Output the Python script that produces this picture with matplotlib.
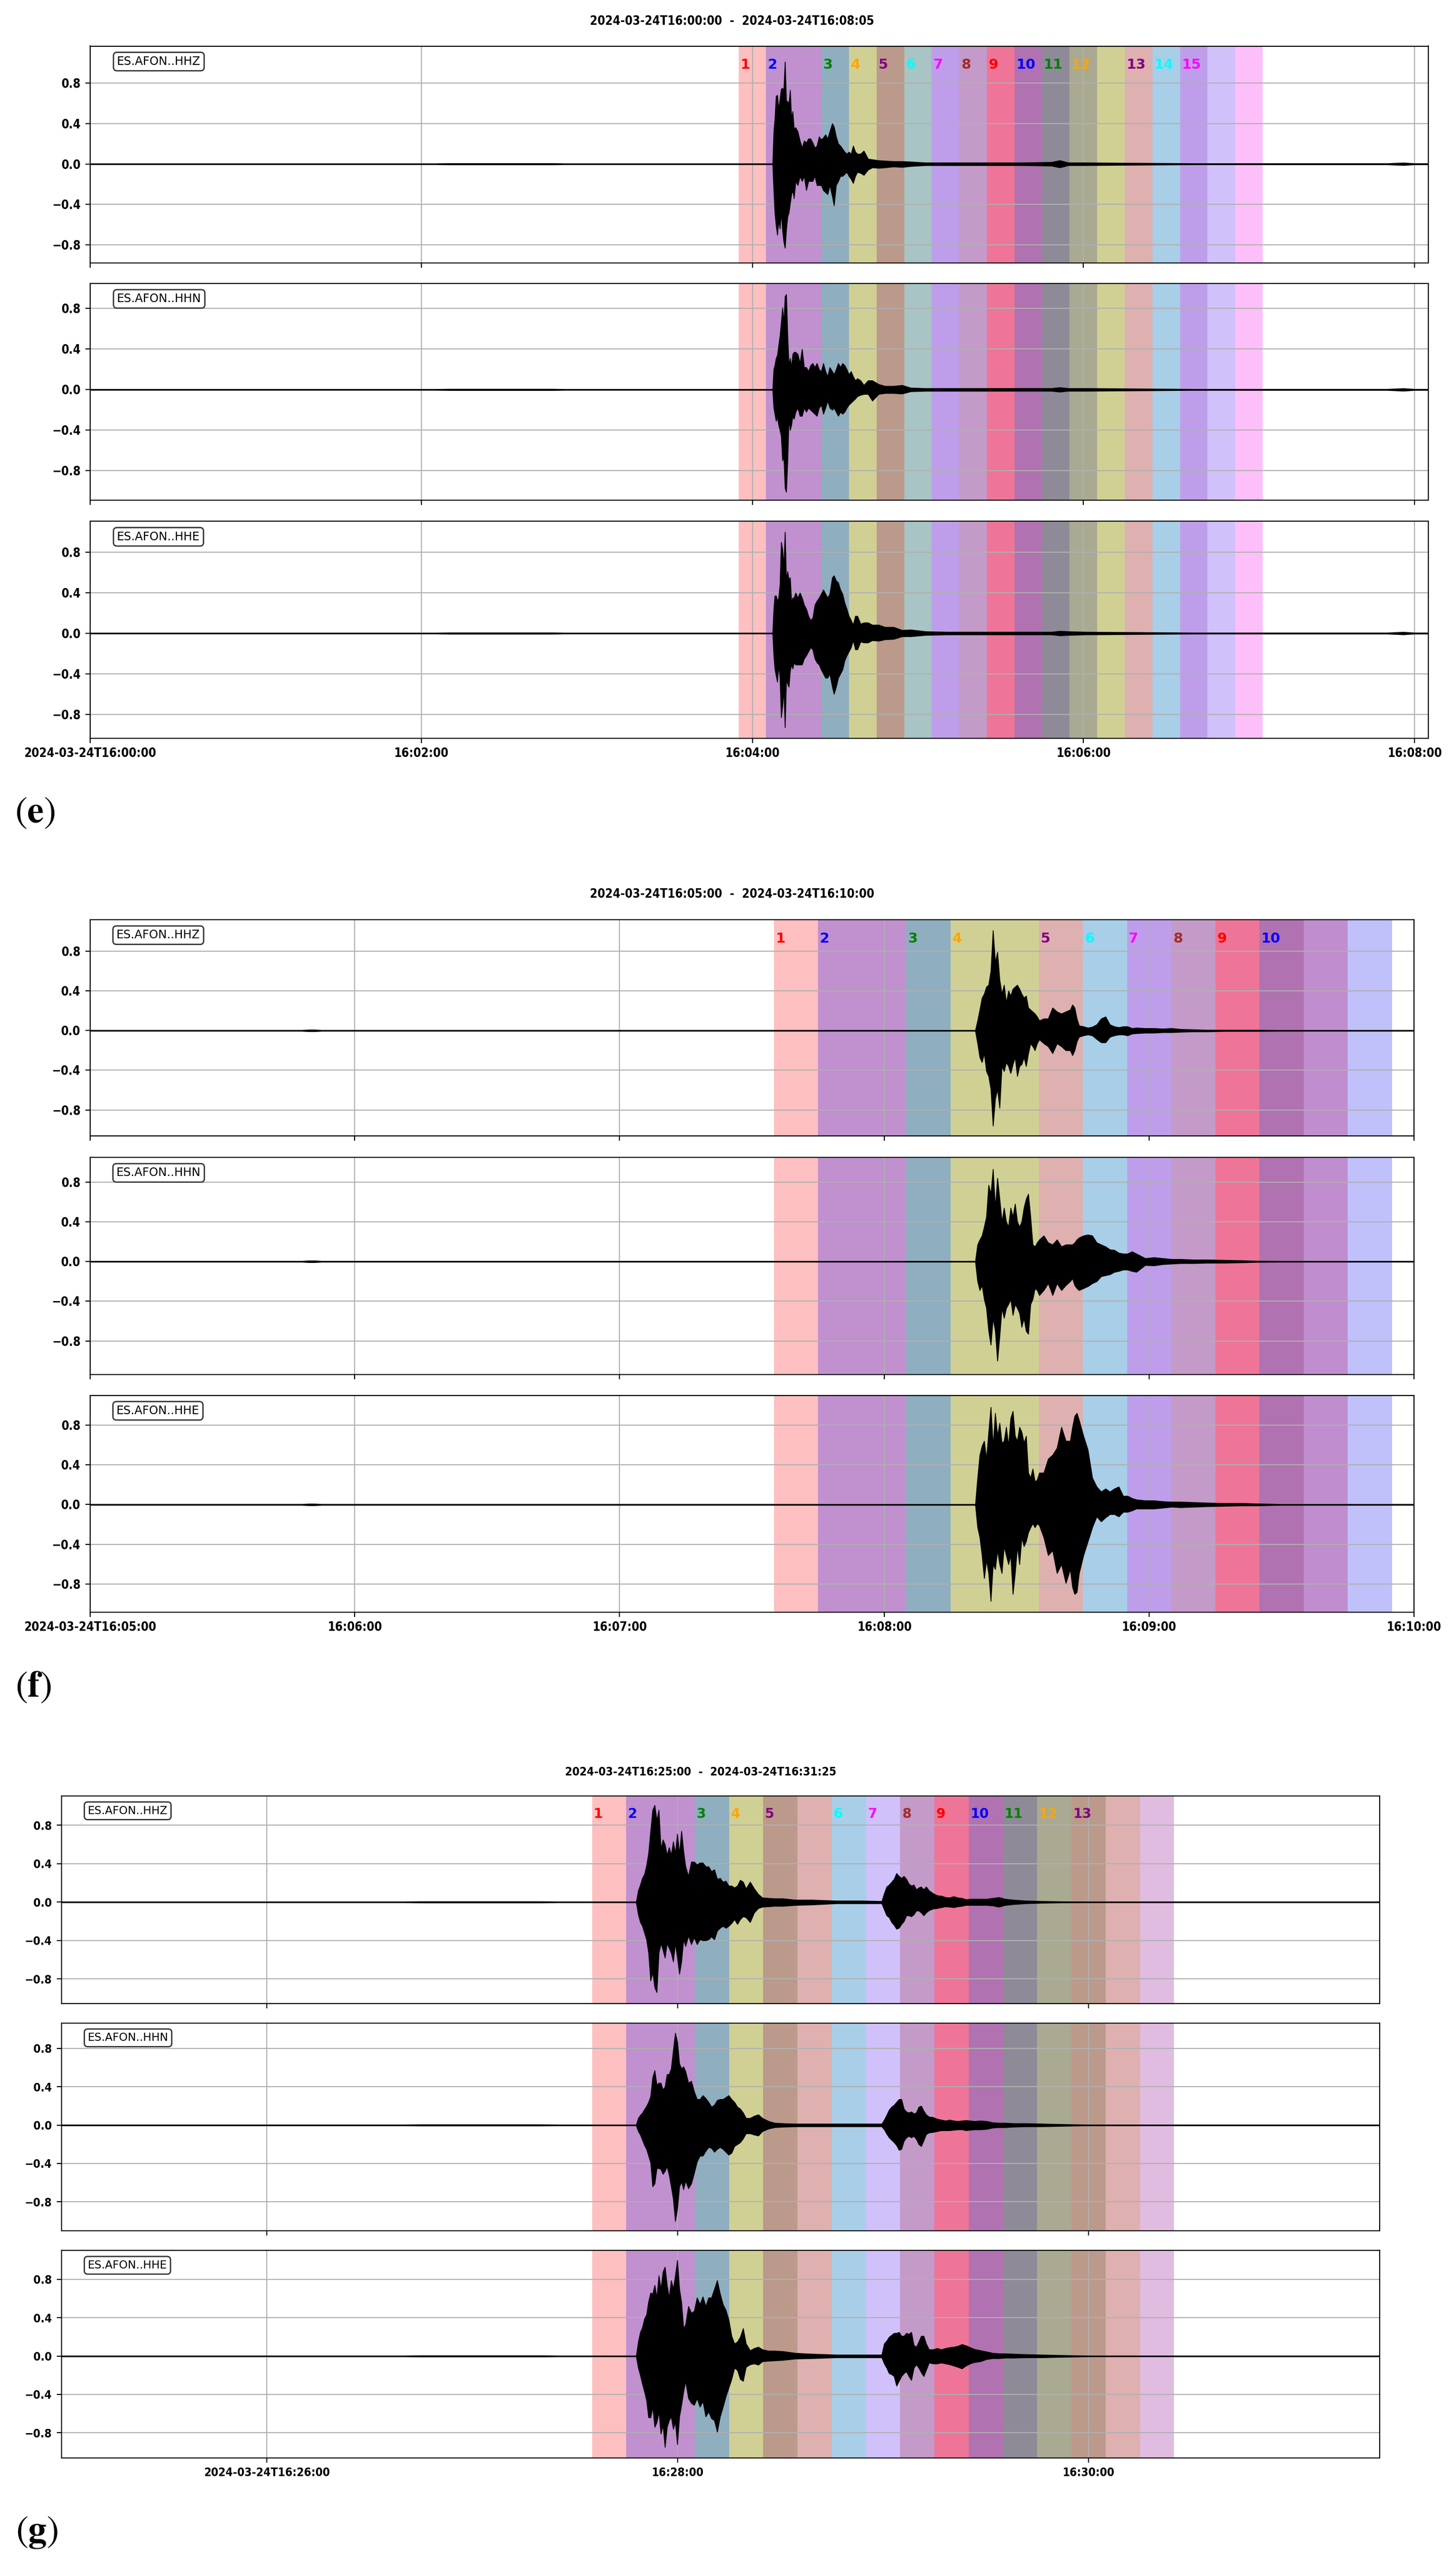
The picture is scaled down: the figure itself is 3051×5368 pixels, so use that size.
import numpy as np
import matplotlib
matplotlib.use('Agg')
import matplotlib.pyplot as plt
from matplotlib import font_manager as fm

plt.rcParams['mathtext.fontset'] = 'stix'
plt.rcParams['font.family'] = ['DejaVu Sans']

W, H, DPI = 3051, 5368, 200

# ---------------- data ----------------
label_colors = ['red', 'blue', 'green', 'orange', 'purple', 'cyan', 'magenta', 'brown']
channels = ['ES.AFON..HHZ', 'ES.AFON..HHN', 'ES.AFON..HHE']
y_ticks = [-0.8, -0.4, 0.0, 0.4, 0.8]
y_ticklabels = ['\u22120.8', '\u22120.4', '0.0', '0.4', '0.8']

# panel (e): seconds after 2024-03-24T16:00:00
e_title = '2024-03-24T16:00:00  -  2024-03-24T16:08:05'
e_xlim = [0, 485]
e_xticks = [0, 120, 240, 360, 480]
e_xticklabels = ['2024-03-24T16:00:00', '16:02:00', '16:04:00', '16:06:00', '16:08:00']
e_span_edges = [235, 245, 265, 275, 285, 295, 305, 315, 325, 335, 345, 355, 365, 375, 385, 395, 405, 415, 425]
e_span_colors = ['#FDBFBF', '#C090CF', '#8FAEBF', '#D0D094', '#BB9A8B', '#A8C4C4', '#BE9EEB', '#C49AC8',
                 '#EE7598', '#B072B0', '#8F8A98', '#AAAA92', '#D0D094', '#DEB0B0', '#A8CEE8', '#BE9EEB',
                 '#D0C1FA', '#FDBFFA']
e_label_x = [235, 245, 265, 275, 285, 295, 305, 315, 325, 335, 345, 355, 375, 385, 395]
e_ylims = [(-0.976, 1.165), (-1.091, 1.048), (-1.035, 1.105)]
e_t = [247.33, 247.72, 248.11, 248.57, 249.03, 249.50, 249.96, 250.42, 250.89, 251.35, 251.81, 252.27,
       252.74, 253.20, 253.67, 254.13, 254.59, 255.06, 255.67, 256.45, 257.22, 257.99, 258.76, 259.53,
       260.31, 261.08, 261.85, 262.62, 263.39, 264.17, 264.94, 265.71, 266.48, 267.26, 268.03, 268.95,
       269.57, 270.34, 271.12, 271.89, 272.66, 273.43, 274.21, 274.98, 275.75, 276.52, 277.30, 278.07,
       279.22, 280.38, 281.93, 283.47, 285.79, 288.11, 291.19, 294.28, 297.37, 302.78, 310.50, 322.08,
       337.53, 348.34, 351.43, 354.52, 360.70]
e_hhz_up = [0.004, .32, .44, .67, .68, .54, .64, .74, .75, .73, 1.01, .62, .62, .59, .73, .45, .52, .35, .36,
            .32, .23, .16, .23, .21, .25, .25, .21, .16, .18, .27, .24, .26, .29, .25, .32, .40, .37, .27, .20,
            .18, .15, .12, .10, .12, .10, .18, .12, .10, .10, .13, .05, .044, .035, .031, .026, .026, .022,
            .013, .013, .013, .013, .018, .035, .013, .013]
e_hhz_lo = [-0.004, -.26, -.48, -.61, -.70, -.56, -.64, -.48, -.66, -.77, -.83, -.65, -.52, -.48, -.39, -.30,
            -.26, -.34, -.17, -.21, -.12, -.17, -.12, -.26, -.17, -.17, -.17, -.12, -.21, -.21, -.21, -.26,
            -.28, -.30, -.21, -.32, -.41, -.21, -.17, -.12, -.12, -.10, -.08, -.12, -.15, -.19, -.12, -.08,
            -.09, -.11, -.057, -.035, -.04, -.035, -.026, -.031, -.022, -.013, -.013, -.013, -.013, -.018,
            -.035, -.013, -.013]
e_hhn_up = [0.004, .20, .24, .31, .34, .44, .53, .66, .81, .66, .92, .94, .53, .24, .31, .22, .35, .37, .37,
            .35, .26, .40, .22, .22, .18, .24, .26, .22, .26, .20, .18, .26, .18, .13, .22, .18, .15, .20, .26,
            .22, .26, .24, .20, .15, .18, .13, .09, .11, .09, .044, .09, .09, .053, .035, .035, .044, .018,
            .013, .013, .013, .013, .013, .022, .013, .013]
e_hhn_lo = [-0.004, -.18, -.24, -.31, -.27, -.35, -.40, -.46, -.70, -.66, -.97, -1.01, -.70, -.29, -.40, -.35,
            -.26, -.29, -.22, -.18, -.26, -.26, -.18, -.22, -.18, -.20, -.22, -.24, -.26, -.18, -.15, -.24,
            -.18, -.11, -.18, -.20, -.18, -.22, -.26, -.22, -.24, -.22, -.18, -.15, -.13, -.11, -.09, -.066,
            -.053, -.044, -.044, -.11, -.044, -.035, -.035, -.04, -.018, -.013, -.013, -.013, -.013, -.013,
            -.022, -.013, -.013]
e_hhe_up = [0.004, .24, .37, .37, .32, .35, .48, .90, .83, .66, 1.0, .53, .61, .53, .55, .31, .35, .35, .40,
            .35, .40, .35, .28, .24, .17, .13, .15, .28, .32, .35, .39, .43, .39, .35, .39, .55, .57, .52, .50,
            .43, .39, .30, .24, .17, .13, .083, .17, .17, .092, .105, .105, .083, .083, .061, .061, .031,
            .035, .018, .013, .013, .013, .013, .022, .018, .013]
e_hhe_lo = [-0.004, -.22, -.35, -.42, -.48, -.31, -.44, -.83, -.72, -.55, -.93, -.46, -.50, -.53, -.37, -.31,
            -.35, -.29, -.31, -.31, -.31, -.31, -.25, -.22, -.18, -.14, -.16, -.25, -.29, -.31, -.36, -.40,
            -.44, -.44, -.40, -.53, -.60, -.53, -.44, -.40, -.36, -.27, -.22, -.18, -.14, -.07, -.16, -.16,
            -.083, -.092, -.092, -.07, -.075, -.061, -.057, -.031, -.031, -.018, -.013, -.013, -.013, -.013,
            -.022, -.018, -.013]
e_lead_t = [0, 125, 130, 168, 172, 247.0]
e_lead_a = [0.004, 0.004, 0.006, 0.006, 0.004, 0.004]
e_tail_t = [400, 470, 476, 480, 485]
e_tail_a = [0.005, 0.005, 0.012, 0.005, 0.005]

# panel (f): seconds after 2024-03-24T16:05:00
f_title = '2024-03-24T16:05:00  -  2024-03-24T16:10:00'
f_xlim = [0, 300]
f_xticks = [0, 60, 120, 180, 240, 300]
f_xticklabels = ['2024-03-24T16:05:00', '16:06:00', '16:07:00', '16:08:00', '16:09:00', '16:10:00']
f_span_edges = [155, 165, 185, 195, 215, 225, 235, 245, 255, 265, 275, 285, 295]
f_span_colors = ['#FDBFBF', '#C090CF', '#8FAEBF', '#D0D094', '#DEB0B0', '#A8CEE8', '#BE9EEB', '#C49AC8',
                 '#EE7598', '#B072B0', '#C08ECE', '#C0C0FA']
f_label_x = [155, 165, 185, 195, 215, 225, 235, 245, 255, 265]
f_ylims = [(-1.062, 1.117), (-1.136, 1.048), (-1.080, 1.099)]
f_t = [200.6, 201.1, 201.6, 202.1, 202.6, 203.1, 203.6, 204.1, 204.6, 205.1, 205.6, 206.1, 206.6, 207.1,
       207.6, 208.1, 208.6, 209.1, 209.6, 210.1, 210.6, 211.1, 211.6, 212.1, 212.6, 213.1, 213.6, 214.1,
       214.6, 215.1, 216.1, 217.1, 218.1, 219.1, 220.1, 221.1, 222.1, 222.6, 223.1, 223.6, 224.1, 225.1,
       226.1, 227.1, 228.1, 229.1, 230.1, 231.1, 232.1, 233.1, 234.1, 235.1, 236.1, 237.1, 239.1, 241.1,
       243.1, 245.1, 247.1, 250.1, 253.1, 257.1, 261.1, 264.1]
f_hhz_up = [0.004, .10, .21, .33, .37, .44, .46, .60, 1.01, .69, .79, .51, .37, .46, .28, .40, .35, .42, .44,
            .46, .42, .37, .33, .35, .23, .21, .19, .17, .14, .10, .12, .12, .23, .19, .17, .19, .21, .26, .23,
            .12, .05, .041, .028, .037, .06, .12, .14, .06, .041, .032, .041, .041, .023, .028, .023, .023,
            .018, .023, .014, .01, .006, .006, .006, .006]
f_hhz_lo = [-0.004, -.13, -.27, -.32, -.23, -.41, -.46, -.59, -.96, -.69, -.59, -.78, -.36, -.41, -.32, -.36,
            -.43, -.34, -.27, -.46, -.36, -.34, -.27, -.36, -.23, -.13, -.16, -.20, -.13, -.09, -.13, -.16,
            -.23, -.13, -.16, -.20, -.20, -.25, -.20, -.11, -.064, -.05, -.041, -.05, -.087, -.12, -.12,
            -.064, -.05, -.041, -.041, -.05, -.032, -.028, -.023, -.023, -.018, -.018, -.014, -.01, -.01,
            -.006, -.006, -.006]
f_hhn_up = [0.004, .17, .22, .26, .35, .45, .77, .68, .93, .54, .84, .63, .40, .54, .40, .35, .54, .45, .58,
            .40, .35, .40, .54, .63, .68, .45, .17, .15, .19, .22, .26, .19, .17, .22, .15, .17, .17, .17, .19,
            .22, .24, .26, .27, .26, .19, .17, .15, .12, .115, .087, .078, .078, .10, .078, .032, .041, .032,
            .023, .023, .018, .018, .014, .01, .006]
f_hhn_lo = [-0.004, -.20, -.29, -.24, -.38, -.47, -.70, -.84, -.57, -.70, -1.0, -.75, -.47, -.57, -.47, -.43,
            -.38, -.54, -.43, -.47, -.52, -.66, -.57, -.70, -.73, -.43, -.38, -.27, -.29, -.34, -.29, -.22,
            -.34, -.22, -.29, -.24, -.20, -.17, -.24, -.27, -.29, -.27, -.25, -.22, -.20, -.15, -.14, -.13,
            -.106, -.097, -.083, -.083, -.097, -.106, -.037, -.041, -.028, -.023, -.018, -.018, -.014, -.014,
            -.01, -.006]
f_hhe_up = [0.004, .27, .50, .59, .64, .46, .73, .98, .59, .92, .69, .82, .62, .64, .78, .59, .87, .94, .69,
            .64, .78, .73, .62, .69, .32, .27, .36, .23, .25, .32, .32, .46, .50, .57, .78, .64, .64, .78, .89,
            .92, .85, .69, .55, .27, .18, .13, .16, .13, .16, .18, .087, .087, .064, .05, .041, .041, .032,
            .028, .028, .023, .018, .014, .014, .01]
f_hhe_lo = [-0.004, -.23, -.33, -.51, -.74, -.56, -.69, -.97, -.60, -.65, -.46, -.60, -.69, -.42, -.51, -.60,
            -.51, -.90, -.69, -.42, -.60, -.33, -.42, -.37, -.28, -.23, -.19, -.23, -.19, -.21, -.33, -.51,
            -.46, -.69, -.60, -.79, -.65, -.83, -.90, -.88, -.69, -.51, -.37, -.23, -.12, -.17, -.13, -.097,
            -.097, -.12, -.074, -.074, -.06, -.041, -.041, -.041, -.032, -.023, -.028, -.023, -.018, -.014,
            -.01, -.01]
f_lead_t = [0, 48, 49.5, 51, 52.5, 200.5]
f_lead_a = [0.004, 0.004, 0.008, 0.008, 0.004, 0.004]
f_tail_t = [270, 300]
f_tail_a = [0.004, 0.004]

# panel (g): seconds after 2024-03-24T16:25:00
g_title = '2024-03-24T16:25:00  -  2024-03-24T16:31:25'
g_xlim = [0, 385]
g_xticks = [60, 180, 300]
g_xticklabels = ['2024-03-24T16:26:00', '16:28:00', '16:30:00']
g_span_edges = [155, 165, 185, 195, 205, 215, 225, 235, 245, 255, 265, 275, 285, 295, 305, 315, 325]
g_span_colors = ['#FDBFBF', '#C090CF', '#8FAEBF', '#D0D094', '#BB9A8B', '#DEB0B0', '#A8CEE8', '#D0C1FA',
                 '#C49AC8', '#EE7598', '#B072B0', '#8F8A98', '#AAAA92', '#BB9A8B', '#DEB0B0', '#E0BCE0']
g_label_x = [155, 165, 185, 195, 205, 225, 235, 245, 255, 265, 275, 285, 295]
g_ylims = [(-1.056, 1.106), (-1.102, 1.065), (-1.061, 1.102)]
g_t = [167.87, 168.47, 169.07, 169.67, 170.27, 170.87, 171.47, 172.07, 172.67, 173.27, 173.87, 174.47,
       175.07, 175.67, 176.27, 176.87, 177.48, 178.08, 178.68, 179.28, 179.88, 180.48, 181.08, 181.68,
       182.28, 183.12, 183.96, 184.80, 185.64, 186.48, 187.33, 188.17, 189.01, 189.85, 190.69, 191.53,
       192.37, 193.21, 194.05, 194.89, 195.73, 196.57, 197.42, 198.26, 199.10, 199.94, 201.14, 202.34,
       203.54, 204.74, 206.54, 208.35, 210.75, 214.35, 219.16, 226.36, 233.57, 239.58, 240.30, 241.02,
       241.74, 242.46, 243.18, 243.90, 244.62, 245.34, 246.06, 246.78, 247.51, 248.23, 248.95, 249.67,
       250.39, 251.11, 251.83, 252.55, 253.39, 254.59, 255.79, 256.99, 258.20, 259.40, 260.60, 261.80,
       263.00, 264.20, 265.40, 266.60, 268.41, 270.21, 272.01, 273.81, 275.61, 278.02, 281.62, 286.42,
       292.43]
g_hhz_up = [0.004, .12, .18, .25, .29, .38, .51, .74, .96, 1.01, .85, .96, .55, .65, .60, .49, .57, .49, .63,
            .51, .71, .50, .74, .53, .37, .27, .42, .42, .39, .41, .41, .37, .37, .32, .34, .24, .25, .21, .22,
            .17, .17, .15, .17, .23, .21, .14, .21, .14, .082, .046, .041, .037, .037, .023, .023, .014, .014,
            .009, .09, .16, .18, .21, .24, .30, .27, .25, .27, .24, .19, .17, .18, .13, .15, .16, .13, .16,
            .12, .09, .069, .064, .05, .046, .059, .046, .041, .027, .032, .032, .032, .032, .041, .05, .032,
            .023, .014, .009, .005]
g_hhz_lo = [-0.004, -.13, -.21, -.25, -.32, -.39, -.53, -.82, -.73, -.89, -.94, -.53, -.43, -.50, -.58, -.43,
            -.48, -.53, -.62, -.43, -.58, -.75, -.62, -.39, -.46, -.35, -.44, -.37, -.44, -.39, -.40, -.40,
            -.39, -.36, -.39, -.30, -.27, -.25, -.27, -.25, -.22, -.18, -.23, -.18, -.15, -.16, -.21, -.11,
            -.064, -.05, -.046, -.041, -.041, -.032, -.027, -.014, -.014, -.014, -.078, -.14, -.16, -.21,
            -.24, -.28, -.27, -.23, -.20, -.14, -.14, -.15, -.13, -.09, -.09, -.11, -.14, -.11, -.087, -.069,
            -.064, -.055, -.046, -.05, -.055, -.046, -.041, -.032, -.032, -.032, -.032, -.032, -.037, -.05,
            -.032, -.023, -.014, -.009, -.005]
g_hhn_up = [0.004, .073, .105, .128, .165, .197, .24, .30, .50, .57, .42, .44, .44, .37, .40, .53, .53, .59,
            .78, .96, .87, .64, .59, .61, .56, .44, .46, .35, .27, .27, .31, .28, .24, .19, .21, .26, .27, .27,
            .29, .31, .27, .24, .19, .17, .13, .073, .073, .096, .11, .073, .041, .023, .018, .014, .014, .014,
            .014, .014, .055, .105, .16, .19, .21, .24, .27, .27, .17, .14, .13, .14, .12, .13, .19, .20, .15,
            .11, .087, .082, .064, .055, .046, .055, .046, .041, .046, .05, .046, .041, .046, .041, .027, .023,
            .023, .018, .018, .014, .009]
g_hhn_lo = [-0.004, -.064, -.10, -.155, -.21, -.25, -.32, -.39, -.64, -.61, -.45, -.45, -.46, -.51, -.48,
            -.43, -.52, -.64, -.77, -1.0, -.87, -.64, -.59, -.67, -.58, -.66, -.61, -.50, -.38, -.32, -.32,
            -.27, -.23, -.24, -.28, -.25, -.23, -.25, -.28, -.31, -.29, -.22, -.20, -.18, -.14, -.087, -.087,
            -.10, -.11, -.064, -.037, -.023, -.018, -.014, -.014, -.014, -.014, -.014, -.046, -.091, -.13,
            -.155, -.18, -.21, -.26, -.25, -.165, -.13, -.114, -.13, -.114, -.146, -.20, -.22, -.16, -.096,
            -.078, -.073, -.064, -.055, -.055, -.055, -.05, -.046, -.046, -.055, -.05, -.046, -.046, -.041,
            -.027, -.023, -.023, -.018, -.014, -.014, -.009]
g_hhe_up = [0.004, .15, .25, .30, .39, .43, .57, .66, .65, .74, .61, .84, .70, .88, .93, .74, .61, .79, .70,
            .84, 1.0, .70, .56, .29, .33, .52, .45, .47, .61, .54, .62, .52, .61, .61, .70, .79, .65, .54, .48,
            .38, .21, .13, .15, .20, .29, .13, .059, .082, .096, .069, .055, .055, .05, .032, .023, .014, .014,
            .014, .13, .16, .20, .22, .24, .24, .25, .21, .21, .24, .23, .25, .114, .096, .15, .21, .21, .13,
            .069, .069, .082, .069, .082, .091, .096, .105, .123, .11, .091, .073, .059, .046, .032, .027,
            .027, .023, .018, .014, .009]
g_hhe_lo = [-0.004, -.123, -.20, -.29, -.37, -.46, -.64, -.64, -.53, -.74, -.69, -.58, -.81, -.72, -.95, -.74,
            -.67, -.63, -.76, -.69, -.92, -.63, -.51, -.37, -.26, -.44, -.49, -.51, -.44, -.53, -.47, -.63,
            -.58, -.65, -.67, -.79, -.63, -.53, -.42, -.33, -.24, -.123, -.146, -.24, -.26, -.114, -.087,
            -.078, -.091, -.055, -.05, -.046, -.041, -.027, -.023, -.014, -.014, -.014, -.078, -.123, -.18,
            -.19, -.21, -.31, -.26, -.21, -.18, -.16, -.21, -.25, -.123, -.087, -.123, -.17, -.21, -.146,
            -.069, -.078, -.078, -.069, -.078, -.087, -.10, -.114, -.13, -.10, -.078, -.064, -.055, -.032,
            -.023, -.023, -.018, -.018, -.014, -.014, -.009]
g_lead_t = [0, 100, 105, 140, 145, 167.8]
g_lead_a = [0.004, 0.004, 0.006, 0.006, 0.004, 0.004]
g_tail_t = [300, 385]
g_tail_a = [0.004, 0.004]

# ---------------- fonts ----------------
cond_path = fm.findfont(fm.FontProperties(family='DejaVu Sans', weight='bold', stretch='condensed'))
has_cond = 'condensed' in cond_path.lower()


def tick_font(scale):
    if has_cond:
        return fm.FontProperties(fname=cond_path, size=9.2 * scale)
    return fm.FontProperties(family='DejaVu Sans', weight='bold', size=8.4 * scale)


fig = plt.figure(figsize=(W / DPI, H / DPI), dpi=DPI)


def box(left, top, right, bottom):
    return [left / W, 1 - bottom / H, (right - left) / W, (bottom - top) / H]


def build(t_core, up, lo, lead_t, lead_a, tail_t, tail_a):
    n = min(len(t_core), len(up), len(lo))
    t = np.concatenate([lead_t, t_core[:n], tail_t])
    u = np.concatenate([lead_a, up[:n], tail_a])
    l = np.concatenate([-np.asarray(lead_a), lo[:n], -np.asarray(tail_a)])
    return t, u, l


def panel(boxes, xlim, xticks, xticklabels, edges, colors, label_x, ylims, t_core, traces,
          lead_t, lead_a, tail_t, tail_a, title, title_xy, tag, tag_xy, scale):
    tfp = tick_font(scale)
    for k, (bx, yl, (up, lo)) in enumerate(zip(boxes, ylims, traces)):
        ax = fig.add_axes(box(*bx))
        for i in range(len(colors)):
            ax.axvspan(edges[i], edges[i + 1], color=colors[i], lw=0, zorder=1)
        t, u, l = build(t_core, up, lo, lead_t, lead_a, tail_t, tail_a)
        ax.fill_between(t, l, u, facecolor='black', edgecolor='black', lw=0.6, zorder=2)
        ax.set_xlim(xlim)
        ax.set_ylim(yl)
        ax.set_xticks(xticks)
        ax.set_yticks(y_ticks)
        ax.set_yticklabels(y_ticklabels, fontproperties=tfp)
        if k == 2:
            ax.set_xticklabels(xticklabels, fontproperties=tfp)
        else:
            ax.set_xticklabels([])
        ax.grid(True, color='#b0b0b0', lw=0.8)
        ax.tick_params(length=3.5, width=0.8)
        for s in ax.spines.values():
            s.set_linewidth(0.8)
        ax.text(0.02, 0.955, channels[k], transform=ax.transAxes, ha='left', va='top',
                fontsize=8.8 * scale, family='DejaVu Sans', zorder=5,
                bbox=dict(boxstyle='round,pad=0.3', fc='white', ec='#333333', lw=1.0))
        if k == 0:
            for j, x in enumerate(label_x):
                ax.annotate(str(j + 1), xy=(x, 0.895), xycoords=ax.get_xaxis_transform(),
                            xytext=(1.3, 0), textcoords='offset points', ha='left', va='baseline',
                            color=label_colors[j % len(label_colors)], fontweight='bold',
                            fontsize=10.5 * scale, family='DejaVu Sans', zorder=6)
    fig.text(title_xy[0] / W, 1 - title_xy[1] / H, title, fontproperties=tfp, ha='center', va='center')
    fig.text(tag_xy[0] / W, 1 - tag_xy[1] / H, tag, fontsize=28, ha='left', va='center')


panel([(189, 96.5, 2993, 550.5), (189, 593.8, 2993, 1048), (189, 1092.3, 2993, 1546.5)],
      e_xlim, e_xticks, e_xticklabels, e_span_edges, e_span_colors, e_label_x, e_ylims, e_t,
      [(e_hhz_up, e_hhz_lo), (e_hhn_up, e_hhn_lo), (e_hhe_up, e_hhe_lo)],
      e_lead_t, e_lead_a, e_tail_t, e_tail_a, e_title, (1534, 45), r'$(\mathbf{e})$', (31, 1701), 1.0)

panel([(188.5, 1927, 2963, 2380), (188.5, 2425, 2963, 2879.5), (188.5, 2923.5, 2963, 3377.5)],
      f_xlim, f_xticks, f_xticklabels, f_span_edges, f_span_colors, f_label_x, f_ylims, f_t,
      [(f_hhz_up, f_hhz_lo), (f_hhn_up, f_hhn_lo), (f_hhe_up, f_hhe_lo)],
      f_lead_t, f_lead_a, f_tail_t, f_tail_a, f_title, (1534, 1874), r'$(\mathbf{f})$', (32, 3533), 1.0)

panel([(128.5, 3763, 2891, 4197.5), (128.5, 4238.7, 2891, 4674), (128.5, 4715.3, 2891, 5149.7)],
      g_xlim, g_xticks, g_xticklabels, g_span_edges, g_span_colors, g_label_x, g_ylims, g_t,
      [(g_hhz_up, g_hhz_lo), (g_hhn_up, g_hhn_lo), (g_hhe_up, g_hhe_lo)],
      g_lead_t, g_lead_a, g_tail_t, g_tail_a, g_title, (1468, 3713), r'$(\mathbf{g})$', (33, 5305), 0.956)

fig.savefig('out.png', dpi=DPI, facecolor='white')
